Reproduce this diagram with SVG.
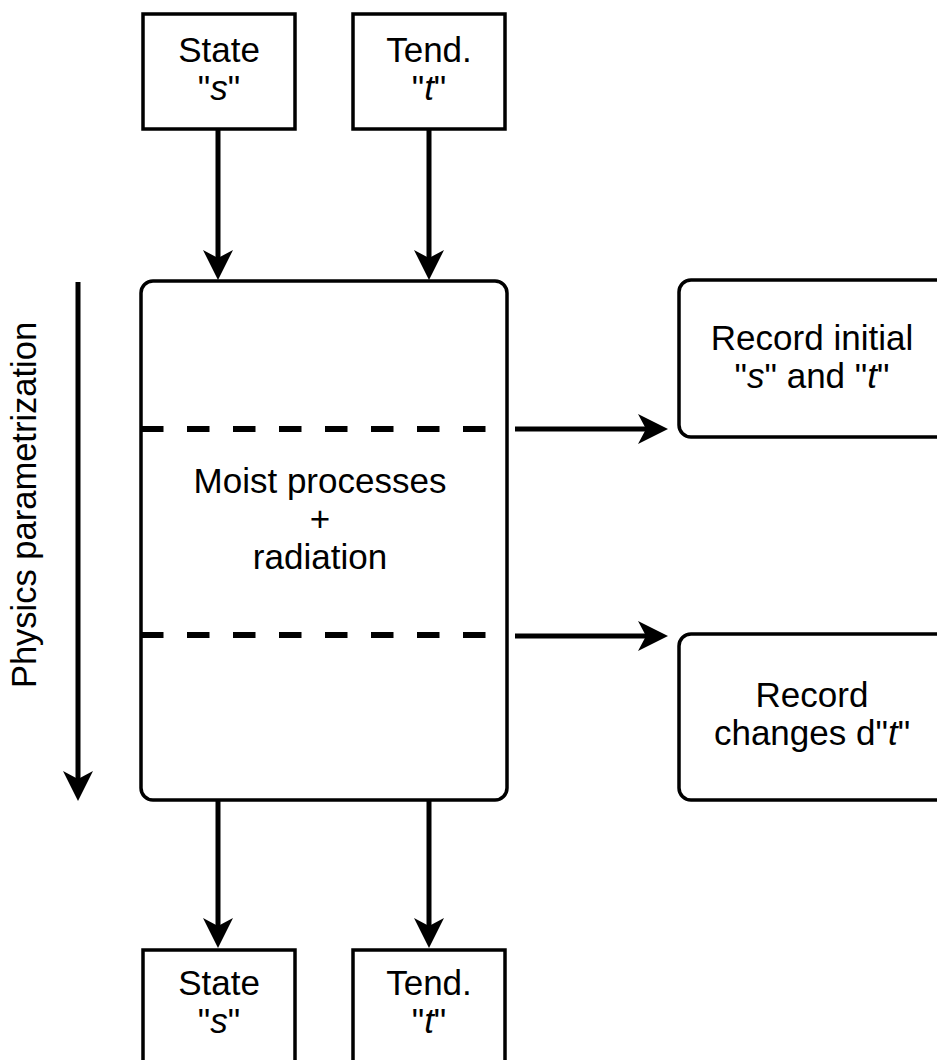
<svg xmlns="http://www.w3.org/2000/svg" width="937" height="1060" viewBox="0 0 937 1060">
  <style>
    .box { fill: #ffffff; stroke: #000000; stroke-width: 3.5; }
    .lbl { font-family: "Liberation Sans", Arial, sans-serif; font-size: 35px; fill: #000000; text-anchor: middle; }
    .it { font-style: italic; }
    .edge { fill: none; stroke: #000000; stroke-width: 5; }
    .dash { fill: none; stroke: #000000; stroke-width: 6; stroke-dasharray: 22.5 23.5; }
  </style>
  <defs>
    <marker id="arrow" viewBox="0 0 30 30" refX="8" refY="15" markerWidth="30" markerHeight="30" markerUnits="userSpaceOnUse" orient="auto">
      <path d="M0,0 L30,15 L0,30 L8,15 Z" fill="#000000"/>
    </marker>
  </defs>

  <rect width="937" height="1060" fill="#ffffff"/>

  <!-- connectors -->
  <g id="connectors">
    <line class="edge" x1="218" y1="129" x2="218" y2="258" marker-end="url(#arrow)"/>
    <line class="edge" x1="429" y1="129" x2="429" y2="258" marker-end="url(#arrow)"/>
    <line class="edge" x1="218" y1="800" x2="218" y2="926" marker-end="url(#arrow)"/>
    <line class="edge" x1="429" y1="800" x2="429" y2="926" marker-end="url(#arrow)"/>
    <line class="edge" x1="515" y1="429" x2="646" y2="429" marker-end="url(#arrow)"/>
    <line class="edge" x1="515" y1="636" x2="646" y2="636" marker-end="url(#arrow)"/>
    <line class="edge" x1="78" y1="282" x2="78" y2="779" marker-end="url(#arrow)"/>
  </g>

  <!-- inputs -->
  <g id="state-in">
    <rect class="box" x="143" y="14" width="152" height="115"/>
    <text class="lbl" x="219" y="62">State</text>
    <text class="lbl" x="219" y="100">"<tspan class="it">s</tspan>"</text>
  </g>
  <g id="tend-in">
    <rect class="box" x="353" y="14" width="152" height="115"/>
    <text class="lbl" x="429" y="62">Tend.</text>
    <text class="lbl" x="429" y="100">"<tspan class="it">t</tspan>"</text>
  </g>

  <!-- physics block -->
  <g id="physics">
    <rect class="box" x="141" y="281" width="366" height="519" rx="12" ry="12"/>
    <line class="dash" x1="141" y1="429" x2="500" y2="429"/>
    <line class="dash" x1="141" y1="635" x2="500" y2="635"/>
    <text class="lbl" x="320" y="493">Moist processes</text>
    <text class="lbl" x="320" y="531">+</text>
    <text class="lbl" x="320" y="569">radiation</text>
  </g>

  <!-- recorders -->
  <g id="record-initial">
    <rect class="box" x="679" y="280" width="280" height="157" rx="12" ry="12"/>
    <text class="lbl" x="812" y="350">Record initial</text>
    <text class="lbl" x="812" y="388">"<tspan class="it">s</tspan>" and "<tspan class="it">t</tspan>"</text>
  </g>
  <g id="record-changes">
    <rect class="box" x="679" y="634" width="280" height="166" rx="12" ry="12"/>
    <text class="lbl" x="812" y="707">Record</text>
    <text class="lbl" x="812" y="745">changes d"<tspan class="it">t</tspan>"</text>
  </g>

  <!-- outputs -->
  <g id="state-out">
    <rect class="box" x="143" y="950" width="152" height="130"/>
    <text class="lbl" x="219" y="995">State</text>
    <text class="lbl" x="219" y="1033">"<tspan class="it">s</tspan>"</text>
  </g>
  <g id="tend-out">
    <rect class="box" x="353" y="950" width="152" height="130"/>
    <text class="lbl" x="429" y="995">Tend.</text>
    <text class="lbl" x="429" y="1033">"<tspan class="it">t</tspan>"</text>
  </g>

  <!-- sequence axis label -->
  <g id="axis-label">
    <text class="lbl" style="font-size:34.5px" transform="translate(36,505) rotate(-90)">Physics parametrization</text>
  </g>
</svg>
